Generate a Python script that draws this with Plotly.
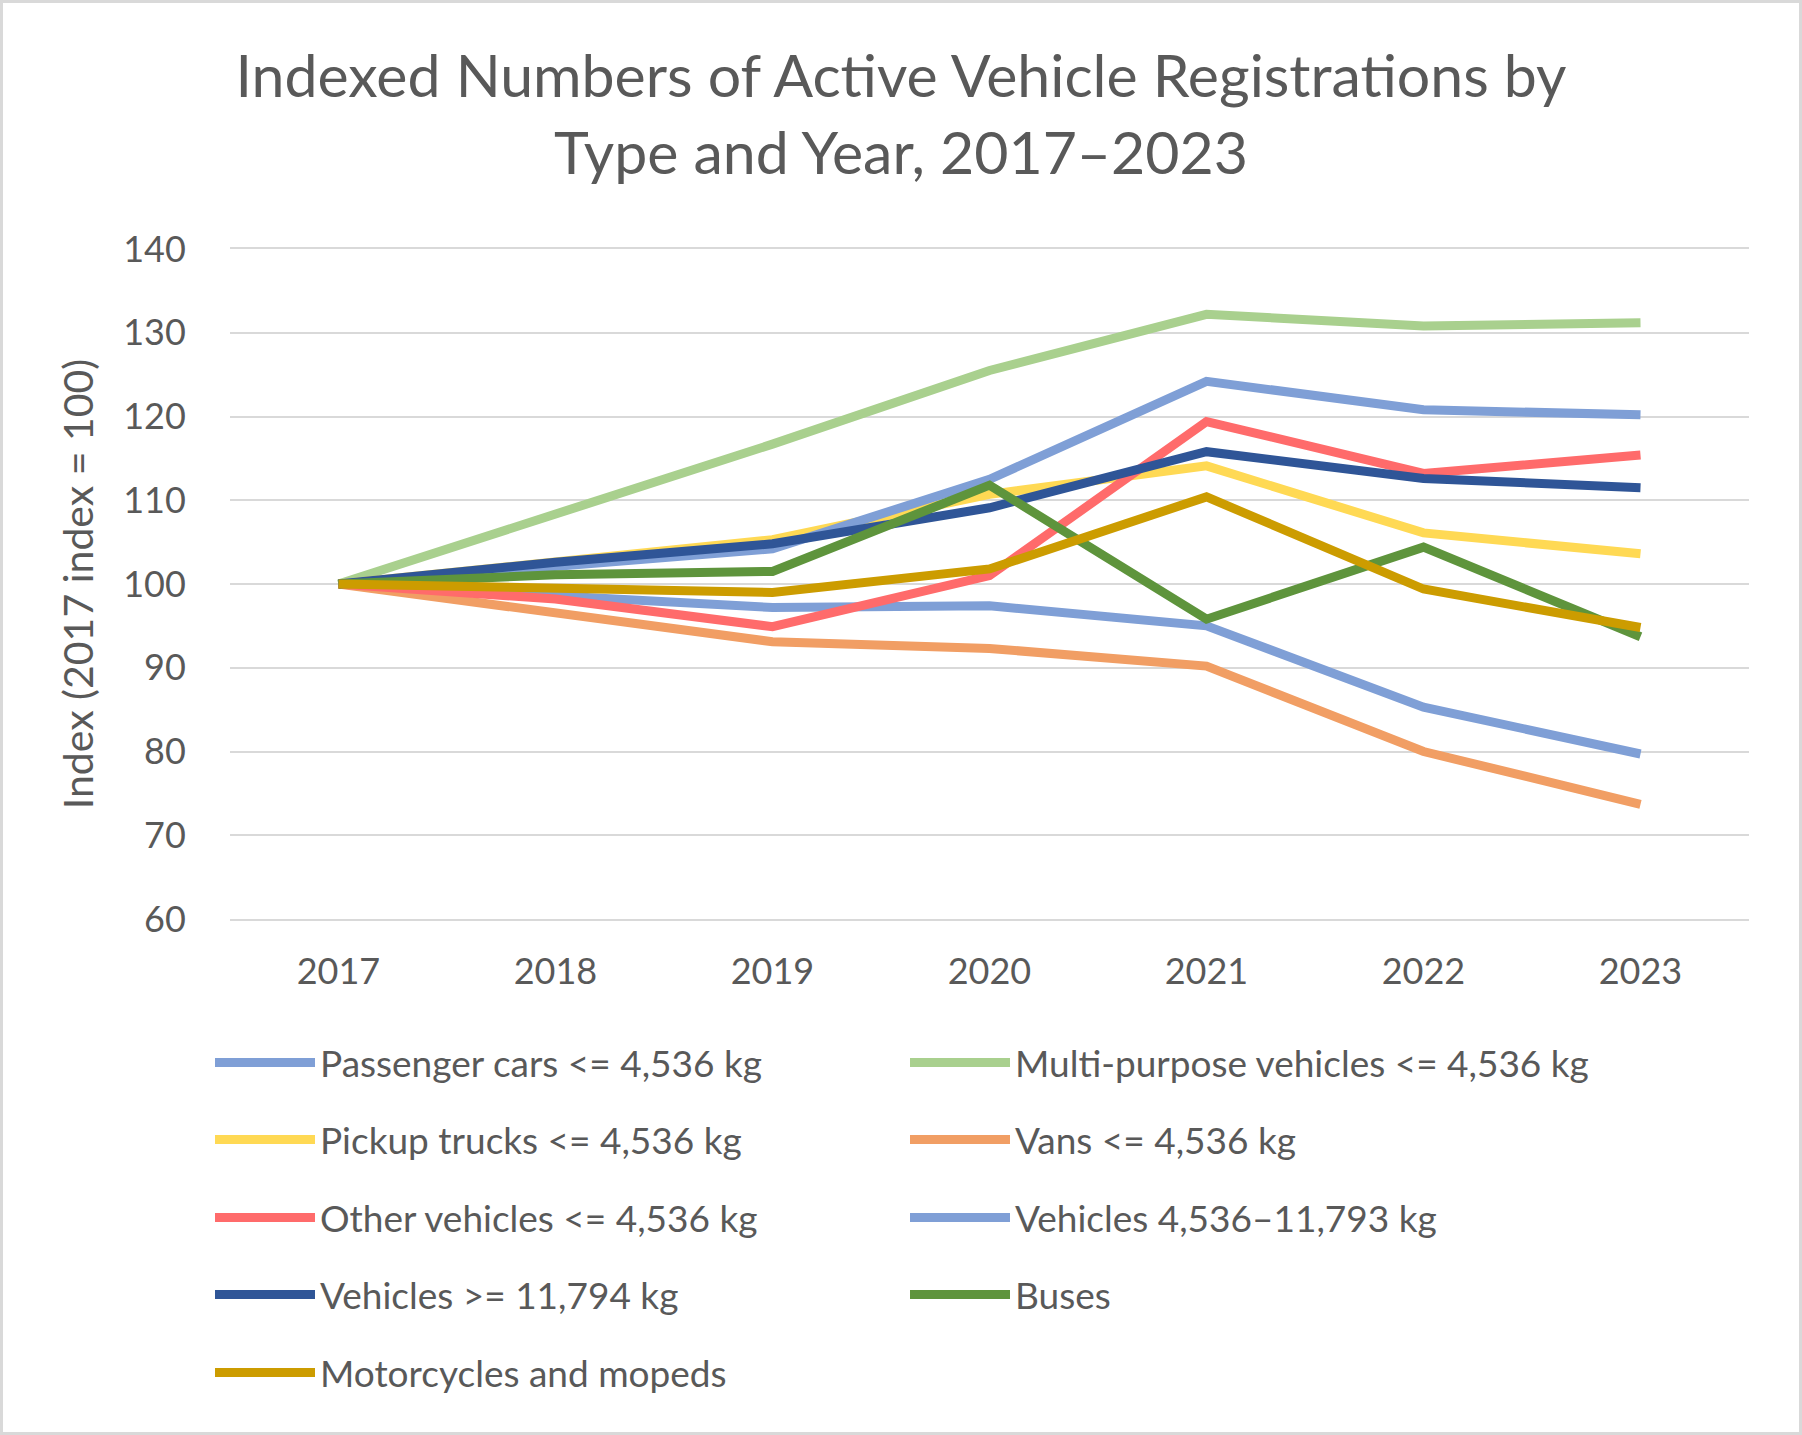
import plotly.graph_objects as go

years = ["2017", "2018", "2019", "2020", "2021", "2022", "2023"]

series_names = [
    "Passenger cars <= 4,536 kg",
    "Multi-purpose vehicles <= 4,536 kg",
    "Pickup trucks <= 4,536 kg",
    "Vans <= 4,536 kg",
    "Other vehicles <= 4,536 kg",
    "Vehicles 4,536–11,793 kg",
    "Vehicles >= 11,794 kg",
    "Buses",
    "Motorcycles and mopeds",
]

passenger_cars = [100, 98.7, 97.2, 97.4, 95.0, 85.3, 79.7]
multi_purpose = [100, 108.4, 116.7, 125.5, 132.2, 130.8, 131.2]
pickup_trucks = [100, 102.7, 105.3, 110.7, 114.1, 106.1, 103.6]
vans = [100, 96.6, 93.1, 92.3, 90.2, 80.0, 73.7]
other_vehicles = [100, 98.2, 94.9, 101.0, 119.4, 113.2, 115.4]
vehicles_mid = [100, 102.0, 104.2, 112.5, 124.2, 120.8, 120.2]
vehicles_heavy = [100, 102.6, 104.8, 109.1, 115.8, 112.6, 111.5]
buses = [100, 101.1, 101.5, 111.8, 95.8, 104.4, 93.7]
motorcycles = [100, 99.6, 99.0, 101.8, 110.4, 99.4, 94.8]

series_values = [passenger_cars, multi_purpose, pickup_trucks, vans, other_vehicles,
                 vehicles_mid, vehicles_heavy, buses, motorcycles]

colors = ["#7F9FD6", "#A9D08E", "#FFD954", "#F19E64", "#FF6B6B",
          "#7F9FD6", "#2F5597", "#5E943C", "#CC9C00"]

font_family = "Lato, 'Open Sans', sans-serif"
text_color = "#595959"
grid_color = "#D9D9D9"

W, H = 1802, 1435
ml, mr, mt, mb = 230, 53, 249, 516
pw, ph = W - ml - mr, H - mt - mb

fig = go.Figure()
for i, (name, vals, col) in enumerate(zip(series_names, series_values, colors)):
    row = i // 2
    fig.add_trace(go.Scatter(
        x=years, y=vals, name=name, mode="lines",
        line=dict(color=col, width=9),
        legend="legend" if row == 0 else f"legend{row + 1}",
    ))

# legend rows (one legend per row, two entries each)
item_w = 100
row_px = [1063, 1140, 1218, 1295, 1373]
legends = {}
for r, ypx in enumerate(row_px):
    key = "legend" if r == 0 else f"legend{r + 1}"
    legends[key] = dict(
        orientation="h",
        x=(210 - ml) / pw, xanchor="left",
        y=(H - mb - ypx) / ph, yanchor="middle",
        itemwidth=item_w,
        entrywidth=694 - item_w - 14, entrywidthmode="pixels",
        font=dict(family=font_family, size=37, color=text_color),
        bgcolor="rgba(0,0,0,0)",
        traceorder="normal",
    )

fig.update_layout(
    width=W, height=H,
    margin=dict(l=ml, r=mr, t=mt, b=mb),
    paper_bgcolor="white", plot_bgcolor="white",
    title=dict(
        text="Indexed Numbers of Active Vehicle Registrations by<br>Type and Year, 2017–2023",
        x=0.5, xanchor="center", y=1 - 97 / H, yanchor="top",
        font=dict(family=font_family, size=59, color=text_color),
    ),
    xaxis=dict(
        type="category", range=[-0.5, 6.5],
        showgrid=False, zeroline=False,
        showline=True, mirror=True, linecolor=grid_color, linewidth=2,
        ticks="outside", ticklen=20, tickcolor="rgba(0,0,0,0)",
        tickfont=dict(family=font_family, size=36, color=text_color),
    ),
    yaxis=dict(
        range=[60, 140], dtick=10, tick0=60,
        showgrid=True, gridcolor=grid_color, gridwidth=2,
        zeroline=False, showline=False,
        ticks="outside", ticklen=36, tickcolor="rgba(0,0,0,0)",
        tickfont=dict(family=font_family, size=36, color=text_color),
        title=dict(text="Index (2017 index = 100)", standoff=16,
                   font=dict(family=font_family, size=41, color=text_color)),
    ),
    showlegend=True,
    **legends,
)

# chart area border
fig.add_shape(
    type="rect", xref="paper", yref="paper",
    x0=(-ml + 1.5) / pw, x1=1 + (mr - 1.5) / pw,
    y0=(-mb + 1.5) / ph, y1=1 + (mt - 1.5) / ph,
    line=dict(color=grid_color, width=3), layer="below",
)

fig.write_html("out.html", config={"displayModeBar": False},
               post_script="document.body.style.margin = '0';")
